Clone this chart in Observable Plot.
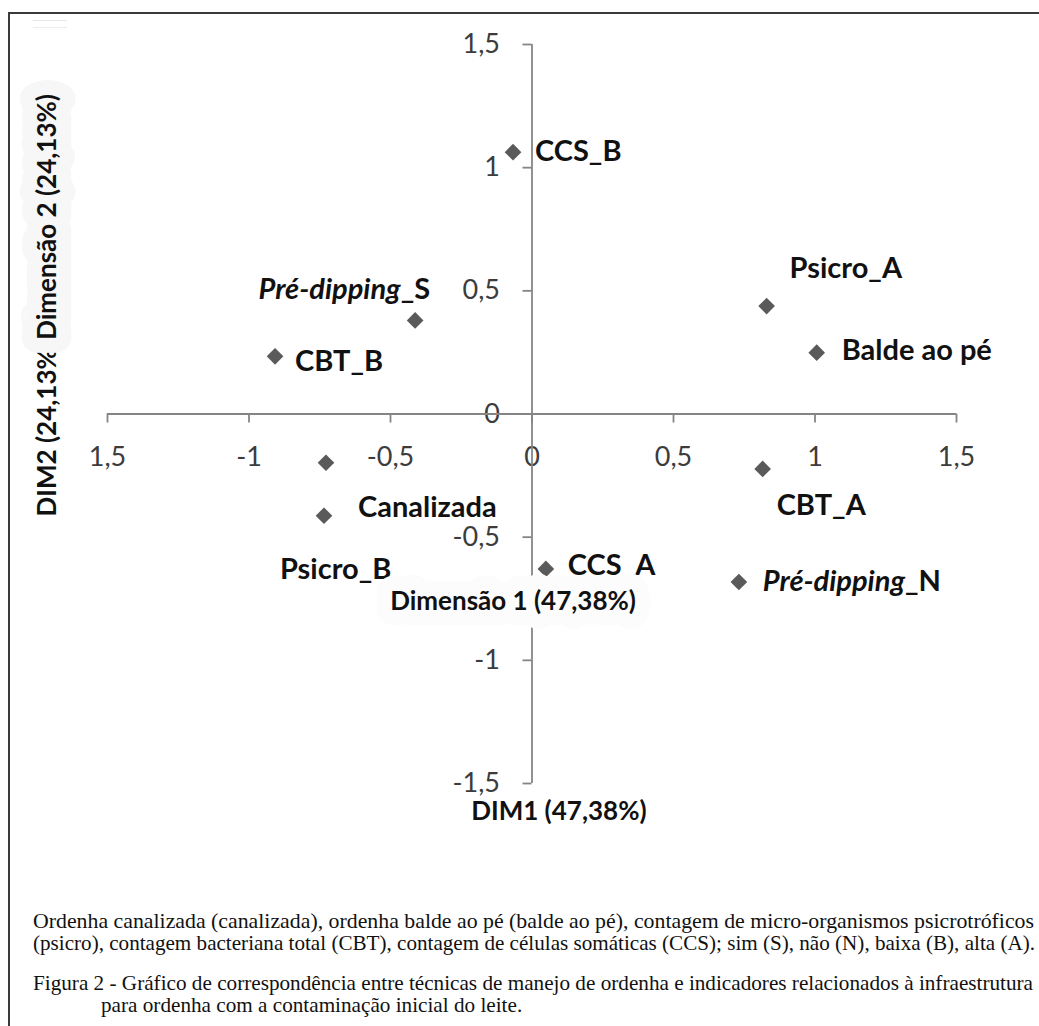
<!DOCTYPE html>
<html><head><meta charset="utf-8">
<script src="https://cdn.jsdelivr.net/npm/d3@7"></script>
<script src="https://cdn.jsdelivr.net/npm/@observablehq/plot@0.6"></script>
<style>
html,body{margin:0;padding:0;background:#fff;}
body{width:1039px;height:1026px;overflow:hidden;position:relative;font-family:Lato,sans-serif;}
#chart{position:absolute;left:0;top:0;}
#frame{position:absolute;left:8px;top:12px;width:1200px;height:1200px;border-top:2px solid #3a3a3a;border-left:2px solid #3a3a3a;z-index:3;pointer-events:none;}
#smudge{position:absolute;left:33px;top:20px;width:34px;height:6px;border-top:1px solid #e6e6e6;border-bottom:1px solid #ececec;}
.cap{position:absolute;left:33px;font-family:"Liberation Serif","Times New Roman",serif;font-size:21px;color:#111;white-space:nowrap;transform-origin:0 0;line-height:22px;}
</style></head><body>
<div id="chart"></div>
<div id="frame"></div>
<div id="smudge"></div>
<div class="cap" id="c1" data-w="1001" style="top:910px">Ordenha canalizada (canalizada), ordenha balde ao pé (balde ao pé), contagem de micro-organismos psicrotróficos</div>
<div class="cap" id="c2" data-w="1002" style="top:932px">(psicro), contagem bacteriana total (CBT), contagem de células somáticas (CCS); sim (S), não (N), baixa (B), alta (A).</div>
<div class="cap" id="c3" data-w="1000" style="top:972px">Figura 2 - Gráfico de correspondência entre técnicas de manejo de ordenha e indicadores relacionados à infraestrutura</div>
<div class="cap" id="c4" data-scale="c3" style="top:994px;left:101px">para ordenha com a contaminação inicial do leite.</div>
<script>
// ---- data ----
const names = ["CCS_B", "Pré-dipping_S", "CBT_B", "Psicro_A", "Balde ao pé", "Psicro_B", "Canalizada", "CBT_A", "CCS_A", "Pré-dipping_N"];
const dim1 = [-0.067, -0.413, -0.908, 0.829, 1.006, -0.728, -0.735, 0.815, 0.049, 0.731];
const dim2 = [1.063, 0.380, 0.234, 0.438, 0.249, -0.198, -0.413, -0.223, -0.629, -0.682];
const tickValues = [-1.5, -1, -0.5, 0, 0.5, 1, 1.5];
const xTickLabels = ["1,5", "-1", "-0,5", "0", "0,5", "1", "1,5"];
const yTickLabels = ["-1,5", "-1", "-0,5", "0", "0,5", "1", "1,5"];
const axisTitles = ["Dimensão 1 (47,38%)", "DIM1 (47,38%)", "Dimensão 2 (24,13%)", "DIM2 (24,13%)"];

// ---- layout (label placement, as dragged in the original) ----
const labelLayout = {
  "CCS_B": {dx: 22, dy: 0, anchor: "start"},
  "Pré-dipping_S": {dx: 15, dy: -31, anchor: "end"},
  "CBT_B": {dx: 20, dy: 5, anchor: "start"},
  "Psicro_A": {dx: 23, dy: -37, anchor: "start"},
  "Balde ao pé": {dx: 25, dy: -2, anchor: "start"},
  "Psicro_B": {dx: -46, dy: 107, anchor: "start"},
  "Canalizada": {dx: 34, dy: -8, anchor: "start"},
  "CBT_A": {dx: 14, dy: 37, anchor: "start"},
  "CCS_A": {dx: 22, dy: -3, anchor: "start"},
  "Pré-dipping_N": {dx: 24, dy: 0, anchor: "start"}
};
const titleAt = {
  "Dimensão 1 (47,38%)": {x: -0.067, y: -0.762, rotate: 0, halo: "#fcfcfc"},
  "DIM1 (47,38%)": {x: 0.095, y: -1.616, rotate: 0, halo: null},
  "Dimensão 2 (24,13%)": {x: -1.71, y: 0.80, rotate: -90, halo: "#f7f7f7"},
  "DIM2 (24,13%)": {x: -1.71, y: -0.06, rotate: -90, halo: null}
};

const points = names.map((name, i) => ({name, d1: dim1[i], d2: dim2[i]}));
const ticks = tickValues.map((v, i) => ({v, xl: xTickLabels[i], yl: yTickLabels[i]}));
const axisColor = "#858585";

const labelMarks = points.map(p => {
  const L = labelLayout[p.name];
  return Plot.text([p], {x: "d1", y: "d2", text: "name", dx: L.dx, dy: L.dy, textAnchor: L.anchor,
    fontSize: 29, fontWeight: "bold", fill: "#111"});
});
const order = ["DIM2 (24,13%)", "Dimensão 2 (24,13%)", "DIM1 (47,38%)", "Dimensão 1 (47,38%)"];
const titleMarks = order.map(t => {
  const T = titleAt[t];
  const o = {x: () => T.x, y: () => T.y, text: () => t, rotate: T.rotate, fontSize: 26, fontWeight: "bold", fill: "#111"};
  if (T.halo) Object.assign(o, {stroke: T.halo, strokeWidth: 30, strokeLinejoin: "round", paintOrder: "stroke"});
  return Plot.text([t], o);
});

const plot = Plot.plot({
  width: 1039, height: 850,
  marginLeft: 107, marginRight: 83, marginTop: 44, marginBottom: 67,
  x: {domain: [-1.5, 1.5], axis: null},
  y: {domain: [-1.5, 1.5], axis: null},
  style: {background: "transparent", fontFamily: "Lato, sans-serif", overflow: "visible"},
  marks: [
    Plot.text(ticks, {x: "v", y: 0, text: "xl", dy: 43, fontSize: 27, fill: "#3c3c3c"}),
    Plot.text(ticks, {x: 0, y: "v", text: "yl", dx: -32, textAnchor: "end", fontSize: 27, fill: "#3c3c3c"}),
    Plot.ruleY([0], {x1: -1.5, x2: 1.5, stroke: axisColor, strokeWidth: 1.8}),
    Plot.ruleX([0], {y1: -1.5, y2: 1.5, stroke: axisColor, strokeWidth: 1.8}),
    Plot.ruleX(ticks, {x: "v", y1: 0, y2: 0, insetBottom: -9, stroke: axisColor, strokeWidth: 1.8}),
    Plot.ruleY(ticks, {y: "v", x1: 0, x2: 0, insetLeft: -9, stroke: axisColor, strokeWidth: 1.8}),
    Plot.dot(points, {x: "d1", y: "d2", symbol: "diamond2", r: 7.5, fill: "#5a5a5a"}),
    ...labelMarks,
    ...titleMarks
  ]
});
document.getElementById("chart").appendChild(plot);

// italic "Pré-dipping" with upright suffix
plot.querySelectorAll("text").forEach(t => {
  const s = t.textContent;
  if (s.startsWith("Pré-dipping")) {
    const rest = s.slice("Pré-dipping".length);
    t.textContent = "";
    const a = document.createElementNS("http://www.w3.org/2000/svg", "tspan");
    a.setAttribute("font-style", "italic"); a.textContent = "Pré-dipping";
    const b = document.createElementNS("http://www.w3.org/2000/svg", "tspan");
    b.textContent = rest;
    t.appendChild(a); t.appendChild(b);
  }
});

// fit caption lines to the justified width
const scales = {};
document.querySelectorAll(".cap[data-w]").forEach(el => {
  const w = el.getBoundingClientRect().width;
  const k = +el.dataset.w / w;
  scales[el.id] = k;
  el.style.transform = `scaleX(${k})`;
});
document.querySelectorAll(".cap[data-scale]").forEach(el => {
  el.style.transform = `scaleX(${scales[el.dataset.scale]})`;
});
</script>
</body></html>
